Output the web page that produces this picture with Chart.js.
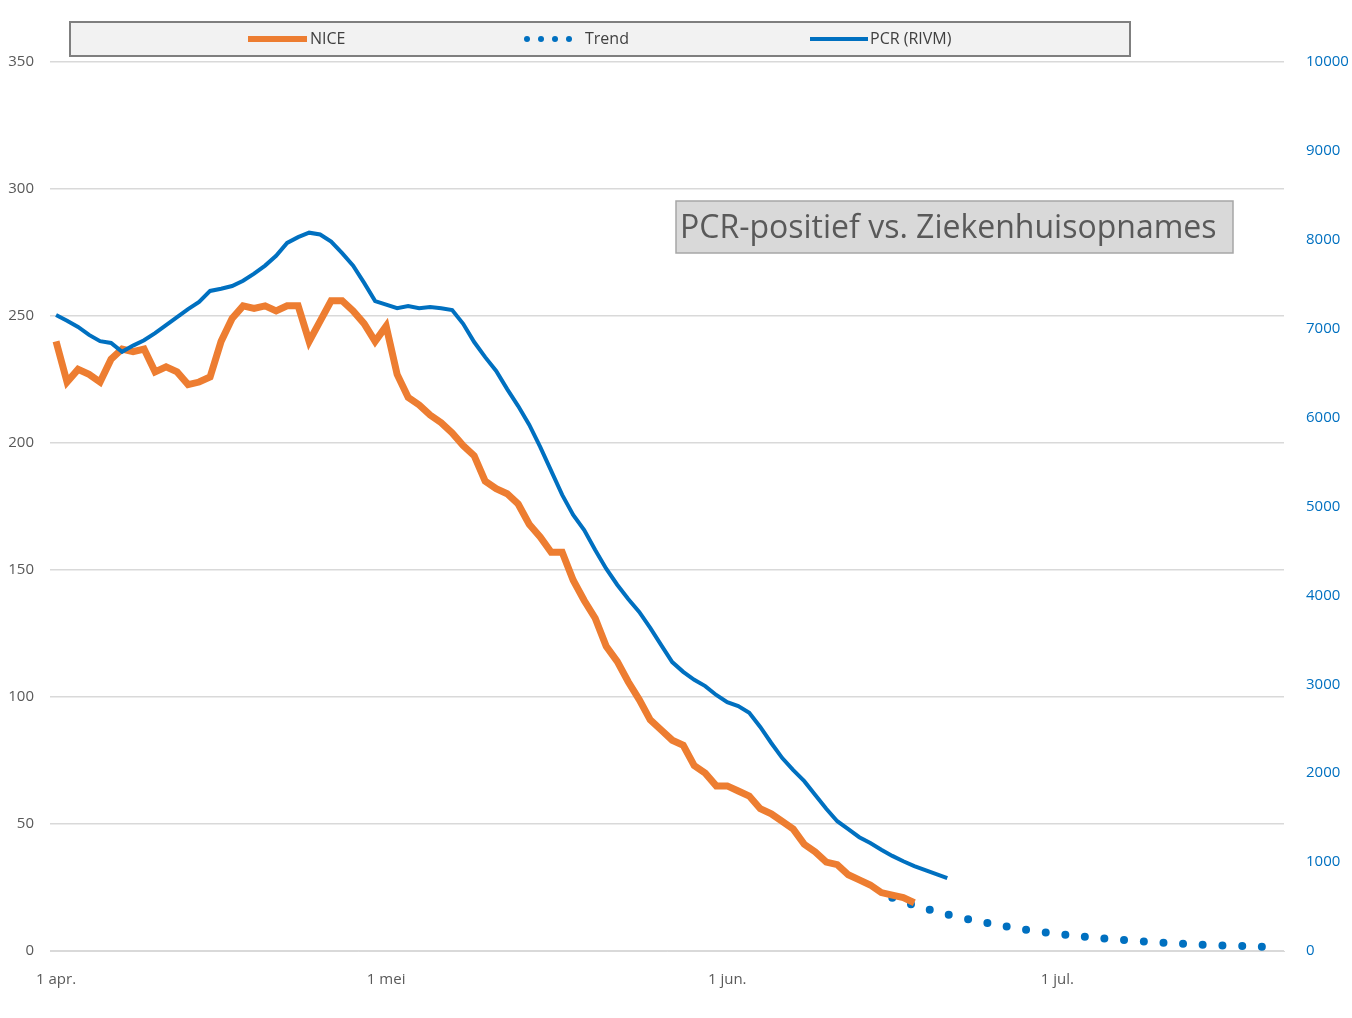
<!DOCTYPE html>
<html>
<head>
<meta charset="utf-8">
<script src="https://cdn.jsdelivr.net/npm/chart.js@4/dist/chart.umd.min.js"></script>
<style>
  body { margin: 0; background: #fff; }
</style>
</head>
<body>
<canvas id="chart" width="1352" height="1018"></canvas>
<script>
// dagen sinds 1 april
const monthTicks = [0, 30, 61, 91];
const monthLabels = ['1 apr.', '1 mei', '1 jun.', '1 jul.'];

// NICE ziekenhuisopnames (linker as), vanaf dag 0
const niceValues = [240, 224, 229, 227, 224, 233, 237, 236, 237, 228, 230, 228, 223, 224, 226, 240,
  249, 254, 253, 254, 252, 254, 254, 240, 248, 256, 256, 252, 247, 240, 246, 227, 218, 215, 211, 208,
  204, 199, 195, 185, 182, 180, 176, 168, 163, 157, 157, 146, 138, 131, 120, 114, 106, 99, 91, 87, 83,
  81, 73, 70, 65, 65, 63, 61, 56, 54, 51, 48, 42, 39, 35, 34, 30, 28, 26, 23, 22, 21, 19];

// PCR positief RIVM (rechter as), vanaf dag 0
const pcrValues = [7155, 7090, 7020, 6930, 6860, 6840, 6740, 6810, 6870, 6950, 7040, 7130, 7220, 7300,
  7425, 7450, 7480, 7540, 7620, 7710, 7820, 7965, 8030, 8080, 8060, 7980, 7850, 7710, 7515, 7310, 7270,
  7230, 7255, 7230, 7245, 7230, 7210, 7055, 6850, 6680, 6525, 6320, 6130, 5920, 5670, 5400, 5130, 4905,
  4735, 4510, 4300, 4120, 3960, 3815, 3635, 3440, 3250, 3140, 3050, 2980, 2880, 2800, 2755, 2680, 2520,
  2340, 2170, 2035, 1910, 1755, 1600, 1460, 1370, 1280, 1215, 1140, 1070, 1010, 955, 910, 865, 820];

// Trend (linker as), vanaf dag 76
const trendStart = 76;
const trendValues = [21, 19.5, 18, 16.8, 15.5, 14.4, 13.4, 12.4, 11.5, 10.7, 9.9, 9.2, 8.5, 7.9, 7.3,
  6.8, 6.3, 5.8, 5.4, 5, 4.6, 4.3, 4, 3.7, 3.4, 3.2, 2.9, 2.7, 2.5, 2.3, 2.2, 2, 1.9, 1.7, 1.6];

const toPoints = (arr, start = 0) => arr.map((v, i) => ({ x: start + i, y: v }));

const boxesPlugin = {
  id: 'boxes',
  afterDraw(chart) {
    const ctx = chart.ctx;
    ctx.save();
    // legenda-kader
    ctx.fillStyle = '#f2f2f2';
    ctx.strokeStyle = '#7f7f7f';
    ctx.lineWidth = 2;
    ctx.fillRect(70, 22, 1060, 34);
    ctx.strokeRect(70, 22, 1060, 34);
    ctx.font = '16px "Open Sans", sans-serif';
    ctx.fillStyle = '#404040';
    ctx.textBaseline = 'middle';
    const y = 39;
    ctx.lineCap = 'butt';
    ctx.strokeStyle = '#ED7D31'; ctx.lineWidth = 6;
    ctx.beginPath(); ctx.moveTo(248, y); ctx.lineTo(307, y); ctx.stroke();
    ctx.fillText('NICE', 310, y);
    ctx.fillStyle = '#0070C0';
    for (let i = 0; i < 4; i++) { ctx.beginPath(); ctx.arc(527 + i * 14, y, 3, 0, Math.PI * 2); ctx.fill(); }
    ctx.fillStyle = '#404040';
    ctx.fillText('Trend', 585, y);
    ctx.strokeStyle = '#0070C0'; ctx.lineWidth = 4;
    ctx.beginPath(); ctx.moveTo(810, y); ctx.lineTo(868, y); ctx.stroke();
    ctx.fillText('PCR (RIVM)', 870, y);
    // titel-kader
    ctx.fillStyle = '#d9d9d9';
    ctx.strokeStyle = '#a6a6a6';
    ctx.lineWidth = 1.5;
    ctx.fillRect(676, 201, 557, 52);
    ctx.strokeRect(676, 201, 557, 52);
    ctx.fillStyle = '#595959';
    ctx.font = '32px "Open Sans", sans-serif';
    ctx.fillText('PCR-positief vs. Ziekenhuisopnames', 680, 229);
    ctx.restore();
  }
};

new Chart(document.getElementById('chart'), {
  type: 'line',
  data: {
    datasets: [
      { label: 'PCR (RIVM)', data: toPoints(pcrValues), yAxisID: 'y2', borderColor: '#0070C0',
        borderWidth: 4, pointRadius: 0, tension: 0 },
      { label: 'NICE', data: toPoints(niceValues), yAxisID: 'y', borderColor: '#ED7D31',
        borderWidth: 7, pointRadius: 0, tension: 0 },
      { label: 'Trend', data: toPoints(trendValues, trendStart), yAxisID: 'y', borderColor: '#0070C0',
        borderWidth: 8, borderDash: [0, 19.7], borderCapStyle: 'round', pointRadius: 0, tension: 0.3 }
    ]
  },
  options: {
    responsive: false,
    animation: false,
    layout: { padding: { top: 62, left: 0, right: 0, bottom: 0 } },
    plugins: { legend: { display: false }, tooltip: { enabled: false } },
    scales: {
      x: {
        type: 'linear', min: -0.55, max: 111.6,
        afterBuildTicks: s => { s.ticks = monthTicks.map(v => ({ value: v })); },
        afterFit: s => { s.height = 67; },
        ticks: {
          autoSkip: false, maxRotation: 0, color: '#595959', padding: 12,
          font: { size: 15, family: '"Open Sans", sans-serif' },
          callback: v => monthLabels[monthTicks.indexOf(v)]
        },
        grid: { display: false },
        border: { color: '#d9d9d9' }
      },
      y: {
        position: 'left', min: 0, max: 350,
        afterFit: s => { s.width = 50; },
        ticks: { stepSize: 50, color: '#595959', padding: 16, font: { size: 15, family: '"Open Sans", sans-serif' } },
        grid: { color: '#d9d9d9', lineWidth: 1.5, drawTicks: false },
        border: { display: false }
      },
      y2: {
        position: 'right', min: 0, max: 10000,
        afterFit: s => { s.width = 68; },
        ticks: { stepSize: 1000, color: '#0070C0', padding: 14, font: { size: 15, family: '"Open Sans", sans-serif' },
          callback: v => String(v) },
        grid: { display: false },
        border: { display: false }
      }
    }
  },
  plugins: [boxesPlugin]
});
</script>
</body>
</html>
